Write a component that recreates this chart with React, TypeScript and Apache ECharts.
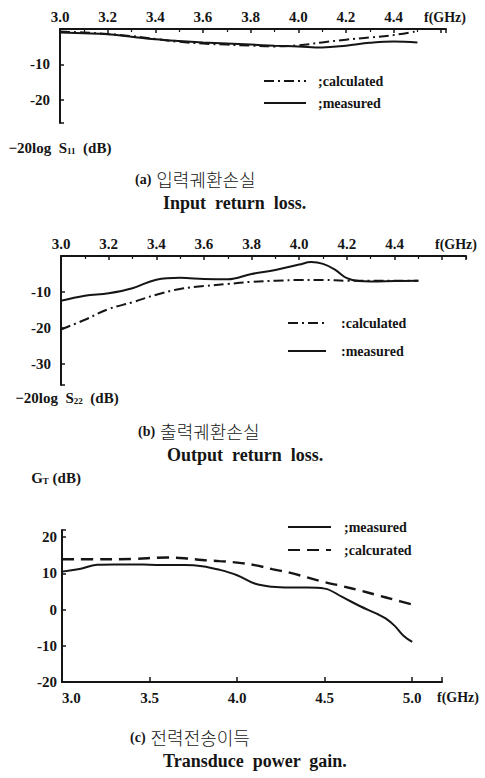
import React, { useEffect, useRef } from "react";
import * as echarts from "echarts";

// ---------- data ----------
// (a) input return loss
const freqA = [3.0, 3.1, 3.2, 3.3, 3.4, 3.5, 3.6, 3.7, 3.8, 3.9, 4.0, 4.1, 4.2, 4.3, 4.4, 4.5];
const measuredA = [-1.0, -1.2, -1.5, -2.2, -2.9, -3.4, -3.8, -4.1, -4.4, -4.7, -4.9, -5.2, -4.7, -3.9, -3.5, -3.8];
const calculatedA = [-0.7, -1.0, -1.4, -2.0, -2.8, -3.6, -4.1, -4.4, -4.7, -4.9, -4.6, -3.8, -3.0, -2.4, -1.7, -0.6];

// (b) output return loss
const freqBm = [3.0, 3.1, 3.2, 3.3, 3.4, 3.5, 3.6, 3.7, 3.8, 3.9, 4.0, 4.05, 4.1, 4.15, 4.2, 4.25, 4.3, 4.4, 4.5];
const measuredB = [-12.5, -11.1, -10.4, -9.0, -6.6, -6.1, -6.4, -6.5, -5.0, -3.9, -2.4, -1.7, -2.2, -3.8, -6.2, -7.0, -7.1, -7.0, -6.9];
const freqBc = [3.0, 3.1, 3.2, 3.3, 3.4, 3.5, 3.6, 3.7, 3.8, 3.9, 4.0, 4.1, 4.2, 4.3, 4.4, 4.5];
const calculatedB = [-20.5, -17.8, -14.8, -12.9, -10.8, -9.2, -8.4, -7.8, -7.2, -6.9, -6.7, -6.7, -6.9, -6.9, -6.9, -6.9];

// (c) transducer power gain
const freqCm = [3.0, 3.1, 3.2, 3.3, 3.4, 3.5, 3.6, 3.7, 3.8, 3.9, 4.0, 4.1, 4.2, 4.3, 4.4, 4.5, 4.6, 4.7, 4.8, 4.85, 4.9, 4.95, 5.0];
const measuredC = [10.5, 11.2, 12.4, 12.5, 12.5, 12.4, 12.3, 12.3, 12.0, 11.0, 9.5, 7.2, 6.3, 6.1, 6.1, 5.8, 3.5, 1.0, -1.2, -2.5, -4.5, -7.2, -8.9];
const freqCc = [3.0, 3.2, 3.4, 3.6, 3.7, 3.8, 3.9, 4.0, 4.1, 4.2, 4.3, 4.4, 4.5, 4.6, 4.7, 4.8, 4.9, 5.0];
const calculatedC = [13.9, 13.9, 14.0, 14.4, 14.2, 13.7, 13.4, 13.0, 12.3, 11.2, 10.2, 8.9, 7.6, 6.5, 5.3, 4.0, 2.7, 1.4];

// tick labels
const topTickLabels = ["3.0", "3.2", "3.4", "3.6", "3.8", "4.0", "4.2", "4.4"];
const bottomTickLabels = ["3.0", "3.5", "4.0", "4.5", "5.0"];
const lossTickLabels = ["-10", "-20", "-30"];
const gainTickLabels = ["20", "10", "0", "-10", "-20"];

const FONT = "'Liberation Serif', 'DejaVu Serif', serif";
const KFONT = "'Noto Sans CJK KR', 'Noto Sans CJK SC', sans-serif";
const INK = "#151515";

const pairs = (xs: number[], ys: number[]) => xs.map((x, i) => [x, ys[i]]);

const legendNames: Record<string, string> = {
  aCalc: ";calculated",
  aMeas: ";measured",
  bCalc: ":calculated",
  bMeas: ":measured",
  cMeas: ";measured",
  cCalc: ";calcurated",
};

const DASHDOT = [10, 4, 2, 4];
const DASHED = [12, 7];

export default function App() {
  const ref = useRef<HTMLDivElement>(null);

  useEffect(() => {
    if (!ref.current) return;
    const chart = echarts.init(ref.current, undefined, { renderer: "svg" });

    const axisLine = { show: true, onZero: false, lineStyle: { color: INK, width: 2 } };
    const labelStyle = { fontFamily: FONT, fontSize: 15, fontWeight: "bold" as const, color: INK };

    const topX = (grid: number, max: number, nameGap: number) => ({
      gridIndex: grid,
      type: "value",
      position: "top",
      min: 3.0,
      max,
      interval: 0.2,
      axisLine,
      axisTick: { show: true, inside: true, length: 4, lineStyle: { color: INK, width: 1.5 } },
      minorTick: { show: true, splitNumber: 2, length: 3, lineStyle: { color: INK, width: 1.2 } },
      splitLine: { show: false },
      minorSplitLine: { show: false },
      axisLabel: {
        ...labelStyle,
        margin: 5,
        formatter: (v: number) => (topTickLabels.includes(v.toFixed(1)) ? v.toFixed(1) : ""),
      },
      name: "f(GHz)",
      nameLocation: "end",
      nameGap,
      nameTextStyle: { ...labelStyle, fontSize: 14, verticalAlign: "bottom", padding: [0, 0, 5, 0] },
    });

    const lossY = (grid: number, min: number, nameName: string, nameGap: number, padLeft: number) => ({
      gridIndex: grid,
      type: "value",
      min,
      max: 0,
      splitNumber: 3,
      minInterval: 10,
      maxInterval: 10,
      axisLine,
      axisTick: { show: true, inside: true, length: 4, lineStyle: { color: INK, width: 1.5 } },
      splitLine: { show: false },
      axisLabel: {
        ...labelStyle,
        margin: 10,
        formatter: (v: number) => (lossTickLabels.includes(String(Math.round(v))) && Math.abs(v - Math.round(v)) < 1e-6 ? String(Math.round(v)) : ""),
      },
      name: nameName,
      nameLocation: "start",
      nameGap,
      nameTextStyle: {
        padding: [0, 0, 0, padLeft],
        rich: {
          a: { fontFamily: FONT, fontSize: 15, fontWeight: "bold", color: INK },
          s: { fontFamily: FONT, fontSize: 9, fontWeight: "bold", color: INK, padding: [6, 0, 0, 0] },
        },
      },
    });

    const series: any[] = [
      {
        name: "aCalc", type: "line", xAxisIndex: 0, yAxisIndex: 0, data: pairs(freqA, calculatedA),
        smooth: 0.4, symbol: "none", lineStyle: { color: INK, width: 2, type: DASHDOT },
      },
      {
        name: "aMeas", type: "line", xAxisIndex: 0, yAxisIndex: 0, data: pairs(freqA, measuredA),
        smooth: 0.4, symbol: "none", lineStyle: { color: INK, width: 2 },
      },
      {
        name: "bCalc", type: "line", xAxisIndex: 1, yAxisIndex: 1, data: pairs(freqBc, calculatedB),
        smooth: 0.4, symbol: "none", lineStyle: { color: INK, width: 2, type: DASHDOT },
      },
      {
        name: "bMeas", type: "line", xAxisIndex: 1, yAxisIndex: 1, data: pairs(freqBm, measuredB),
        smooth: 0.4, symbol: "none", lineStyle: { color: INK, width: 2 },
      },
      {
        name: "cMeas", type: "line", xAxisIndex: 2, yAxisIndex: 2, data: pairs(freqCm, measuredC),
        smooth: 0.4, symbol: "none", lineStyle: { color: INK, width: 2 },
      },
      {
        name: "cCalc", type: "line", xAxisIndex: 2, yAxisIndex: 2, data: pairs(freqCc, calculatedC),
        smooth: 0.4, symbol: "none", lineStyle: { color: INK, width: 2.4, type: DASHED },
      },
    ];

    const legend = (names: string[], left: number, top: number, itemWidth: number, itemGap: number, textPad: number) => ({
      data: names,
      orient: "vertical",
      left,
      top,
      padding: 0,
      itemWidth,
      itemHeight: 14,
      itemGap,
      selectedMode: false,
      itemStyle: { opacity: 0 },
      formatter: (n: string) => legendNames[n],
      textStyle: { fontFamily: FONT, fontSize: 14, fontWeight: "bold", color: INK, padding: [0, 0, 0, textPad] },
    });

    const titleK = (tag: string, text: string, left: number, top: number) => ({
      text: `{p|${tag}} {k|${text}}`,
      left,
      top,
      padding: 0,
      textStyle: {
        lineHeight: 18,
        rich: {
          p: { fontFamily: FONT, fontSize: 14, fontWeight: "bold", color: INK, lineHeight: 18 },
          k: { fontFamily: KFONT, fontSize: 18, fontWeight: 300, color: INK, lineHeight: 18 },
        },
      },
    });
    const titleE = (text: string, left: number, top: number) => ({
      text,
      left,
      top,
      padding: 0,
      textStyle: { fontFamily: FONT, fontSize: 18, lineHeight: 17, fontWeight: "bold", color: INK },
    });

    chart.setOption({
      animation: false,
      backgroundColor: "#ffffff",
      title: [
        titleK("(a)", "입력궤환손실", 135, 170),
        titleE("Input  return  loss.", 163, 194),
        titleK("(b)", "출력궤환손실", 138, 422),
        titleE("Output  return  loss.", 167, 446),
        titleK("(c)", "전력전송이득", 130, 728),
        titleE("Transduce  power  gain.", 163, 752),
      ],
      legend: [
        legend(["aCalc", "aMeas"], 263, 74, 42, 8, 7),
        legend(["bCalc", "bMeas"], 287, 316, 38, 14, 10),
        legend(["cMeas", "cCalc"], 287, 520, 43, 9, 8),
      ],
      grid: [
        { left: 60, top: 29, width: 386, height: 94 },
        { left: 61, top: 256, width: 405, height: 129 },
        { left: 62, top: 530, width: 380, height: 152 },
      ],
      xAxis: [
        topX(0, 4.62, -22),
        topX(1, 4.7, -31),
        {
          gridIndex: 2,
          type: "value",
          position: "bottom",
          min: 3.0,
          max: 5.17,
          interval: 0.5,
          axisLine,
          axisTick: { show: true, inside: true, length: 5, lineStyle: { color: INK, width: 1.5 } },
          splitLine: { show: false },
          axisLabel: {
            ...labelStyle,
            margin: 8,
            alignMinLabel: "left",
            formatter: (v: number) => (bottomTickLabels.includes(v.toFixed(1)) ? v.toFixed(1) : ""),
          },
          name: "f(GHz)",
          nameLocation: "end",
          nameGap: -5,
          nameTextStyle: { ...labelStyle, fontSize: 14, verticalAlign: "top", padding: [8, 0, 0, 0] },
        },
      ],
      yAxis: [
        lossY(0, -26.5, "{a|−20log  S}{s|11}{a|  (dB)}", 17, 0),
        lossY(1, -36, "{a|−20log  S}{s|22}{a|  (dB)}", 5, 12),
        {
          gridIndex: 2,
          type: "value",
          min: -20,
          max: 22,
          splitNumber: 4,
          minInterval: 10,
          maxInterval: 10,
          axisLine,
          axisTick: { show: true, inside: true, length: 4, lineStyle: { color: INK, width: 1.5 } },
          splitLine: { show: false },
          axisLabel: {
            ...labelStyle,
            margin: 5,
            formatter: (v: number) => (gainTickLabels.includes(String(Math.round(v))) && Math.abs(v - Math.round(v)) < 1e-6 ? String(Math.round(v)) : ""),
          },
          name: "{a|G}{s|T}{a| (dB)}",
          nameLocation: "end",
          nameGap: 45,
          nameTextStyle: {
            padding: [0, 12, 0, 0],
            rich: {
              a: { fontFamily: FONT, fontSize: 15, fontWeight: "bold", color: INK },
              s: { fontFamily: FONT, fontSize: 9, fontWeight: "bold", color: INK, padding: [6, 0, 0, 0] },
            },
          },
        },
      ],
      series,
    });

    return () => chart.dispose();
  }, []);

  return (
    <div
      ref={ref}
      style={{ position: "absolute", left: 0, top: 0, width: 485, height: 778, background: "#fff" }}
    />
  );
}
